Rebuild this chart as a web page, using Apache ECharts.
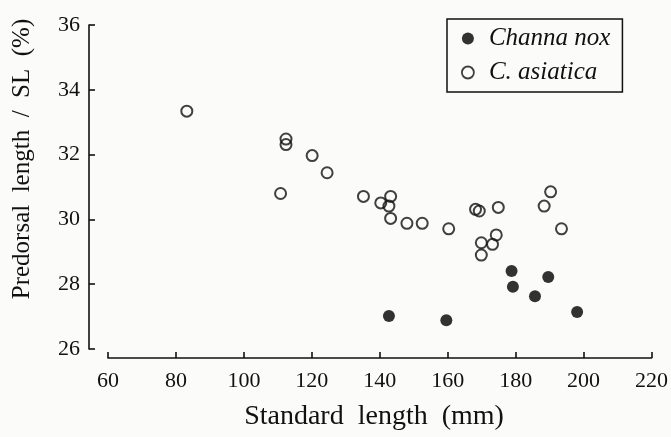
<!DOCTYPE html>
<html><head><meta charset="utf-8">
<script src="https://cdn.jsdelivr.net/npm/echarts@6/dist/echarts.min.js"></script>
<style>html,body{margin:0;padding:0;background:#fbfbf9;}#c{width:671px;height:437px;}</style>
</head><body><div id="c"></div>
<script>
// Channa nox (filled circles): [standard length mm, predorsal length / SL %]
var channaNoxSL = [142.7, 159.6, 178.8, 179.2, 185.7, 189.6, 198.1];
var channaNoxPD = [27.02, 26.89, 28.41, 27.92, 27.63, 28.22, 27.14];
// C. asiatica (open circles)
var asiaticaSL = [83.2, 112.4, 112.4, 120.1, 124.5, 110.8, 135.2, 140.3, 143.2, 142.7, 143.2, 148.0, 152.5, 160.3, 168.2, 169.3, 174.9, 174.3, 173.2, 169.9, 169.9, 188.4, 190.3, 193.5];
var asiaticaPD = [33.34, 32.48, 32.31, 31.97, 31.44, 30.80, 30.71, 30.51, 30.71, 30.41, 30.03, 29.88, 29.88, 29.71, 30.31, 30.26, 30.37, 29.52, 29.23, 29.28, 28.90, 30.41, 30.85, 29.71];
var xTicks = [60, 80, 100, 120, 140, 160, 180, 200, 220];
var yTicks = [26, 28, 30, 32, 34, 36];
var xTitle = 'Standard  length  (mm)';
var yTitle = 'Predorsal  length  /  SL  (%)';

function pairs(a, b) { return a.map(function (v, i) { return [v, b[i]]; }); }
var serif = 'Liberation Serif, Times New Roman, serif';
var chart = echarts.init(document.getElementById('c'));
chart.setOption({
  backgroundColor: '#fbfbf9',
  animation: false,
  grid: { left: 108, right: 18, top: 25, bottom: 88 },
  xAxis: {
    type: 'value', min: xTicks[0], max: xTicks[xTicks.length - 1], interval: 20, offset: 9,
    axisLine: { show: true, lineStyle: { color: '#111', width: 1.6 } },
    axisTick: { show: true, inside: true, length: 6, lineStyle: { color: '#111', width: 1.6 } },
    axisLabel: { color: '#111', fontFamily: serif, fontSize: 22, margin: 12 },
    splitLine: { show: false }
  },
  yAxis: {
    type: 'value', min: yTicks[0], max: yTicks[yTicks.length - 1], interval: 2, offset: 19,
    axisLine: { show: true, lineStyle: { color: '#111', width: 1.6 } },
    axisTick: { show: true, inside: true, length: 6, lineStyle: { color: '#111', width: 1.6 } },
    axisLabel: { color: '#111', fontFamily: serif, fontSize: 22, margin: 9 },
    splitLine: { show: false }
  },
  legend: {
    orient: 'vertical', left: 447, top: 19,
    padding: [7, 12, 7, 14], itemGap: 9,
    itemWidth: 12, itemHeight: 12,
    borderColor: '#111', borderWidth: 1.5, backgroundColor: '#fbfbf9',
    textStyle: { fontFamily: serif, fontStyle: 'italic', fontSize: 25, color: '#111', padding: [0, 0, 0, 10] },
    data: [
      { name: 'Channa nox', icon: 'circle' },
      { name: 'C. asiatica', icon: 'circle', itemStyle: { color: 'transparent', borderColor: '#111', borderWidth: 1.8 } }
    ]
  },
  graphic: [
    { type: 'text', x: 374, y: 417, style: { text: xTitle, font: '28px ' + serif, fill: '#111', textAlign: 'center', textVerticalAlign: 'middle' } },
    { type: 'text', x: 22, y: 159, rotation: Math.PI / 2, style: { text: yTitle, font: '25px ' + serif, fill: '#111', textAlign: 'center', textVerticalAlign: 'middle' } }
  ],
  series: [
    {
      name: 'Channa nox', type: 'scatter', symbol: 'circle', symbolSize: 12,
      itemStyle: { color: '#000' },
      data: pairs(channaNoxSL, channaNoxPD)
    },
    {
      name: 'C. asiatica', type: 'scatter', symbol: 'circle', symbolSize: 11,
      itemStyle: { color: 'transparent', borderColor: '#111', borderWidth: 2 },
      data: pairs(asiaticaSL, asiaticaPD)
    }
  ]
});
</script></body></html>
